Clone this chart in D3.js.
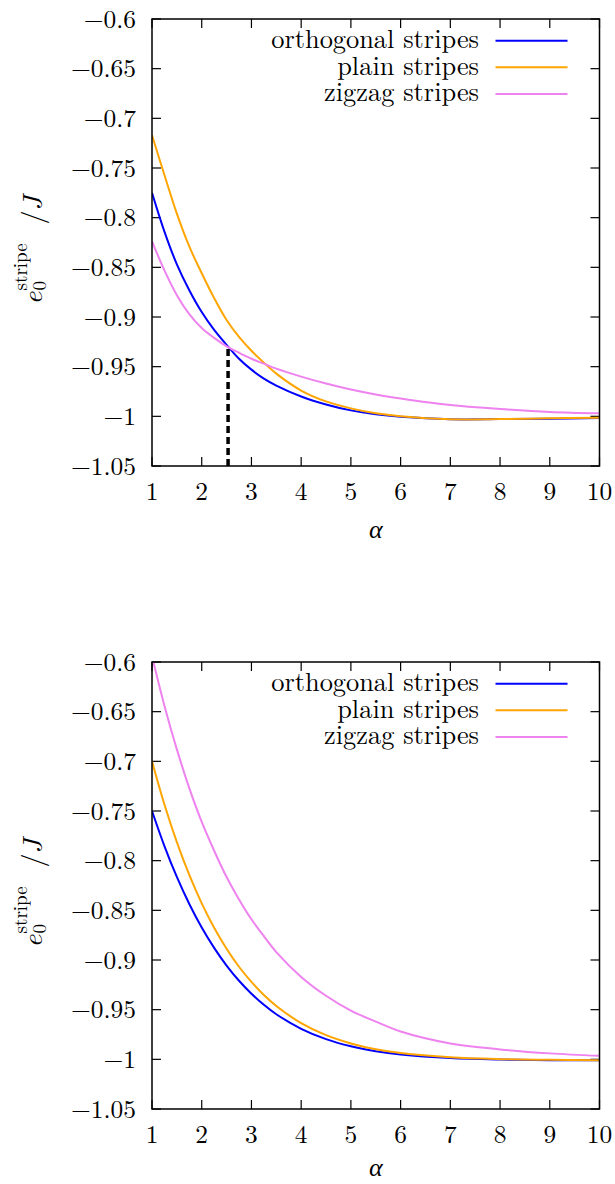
<!DOCTYPE html>
<html><head><meta charset="utf-8">
<script src="https://cdn.jsdelivr.net/npm/d3@7"></script>
<style>body{margin:0;background:#fff}svg{display:block}</style>
</head><body>
<svg id="c" width="615" height="1184"></svg>
<script>
const alpha = [1,1.25,1.5,1.75,2,2.25,2.5,2.75,3,3.25,3.5,4,4.5,5,5.5,6,7,8,9,10];
const topOrthogonal = [-0.775,-0.814,-0.847,-0.873,-0.895,-0.913,-0.928,-0.942,-0.953,-0.962,-0.969,-0.980,-0.988,-0.994,-0.998,-1.0005,-1.003,-1.0028,-1.0024,-1.0018];
const topPlain      = [-0.717,-0.757,-0.796,-0.829,-0.856,-0.881,-0.903,-0.920,-0.934,-0.946,-0.957,-0.974,-0.985,-0.992,-0.997,-1.000,-1.003,-1.0027,-1.002,-1.0015];
const topZigzag     = [-0.824,-0.853,-0.878,-0.897,-0.911,-0.921,-0.9295,-0.936,-0.942,-0.947,-0.952,-0.960,-0.967,-0.973,-0.978,-0.982,-0.9886,-0.9926,-0.9956,-0.997];
const botOrthogonal = [-0.750,-0.7853,-0.8164,-0.8436,-0.8673,-0.8878,-0.9056,-0.9209,-0.9339,-0.9451,-0.9546,-0.9693,-0.9797,-0.9869,-0.9918,-0.9951,-0.9987,-1.0002,-1.0008,-1.001];
const botPlain      = [-0.700,-0.7435,-0.7814,-0.8144,-0.843,-0.8675,-0.8886,-0.9068,-0.9221,-0.9353,-0.9463,-0.9636,-0.9757,-0.984,-0.9899,-0.9937,-0.998,-0.9998,-1.0005,-1.001];
const botZigzag     = [-0.594,-0.644,-0.688,-0.727,-0.761,-0.790,-0.8165,-0.839,-0.859,-0.876,-0.892,-0.917,-0.936,-0.951,-0.962,-0.972,-0.984,-0.990,-0.994,-0.9965];
const seriesNames = ["orthogonal stripes","plain stripes","zigzag stripes"];
const seriesColors = ["#0000ff","#ffa500","#ee82ee"];
const xTicks = [1,2,3,4,5,6,7,8,9,10];
const yTicks = [-0.6,-0.65,-0.7,-0.75,-0.8,-0.85,-0.9,-0.95,-1,-1.05];
const crossing = {alpha:2.53, e:-0.931};

const ctx = document.createElement("canvas").getContext("2d");
function pickFont(cands){
  const test = "mmmmmmmmmmlli1WQ0.65 orthogonal";
  for(const f of cands){
    for(const b of ["monospace","sans-serif"]){
      ctx.font = `40px ${b}`; const w0 = ctx.measureText(test).width;
      ctx.font = `40px "${f}", ${b}`; const w1 = ctx.measureText(test).width;
      if(Math.abs(w1-w0) > 0.5) return f;
    }
  }
  return null;
}
const face = pickFont(["Latin Modern Roman","CMU Serif","Liberation Serif","Tinos","Times New Roman","Nimbus Roman","FreeSerif","Noto Serif","DejaVu Serif"]);
const fam = face ? `"${face}", serif` : "serif";
const svg = d3.select("#c").attr("font-family", fam);
const fmt = v => (v<0?"\u2212":"") + String(Math.abs(v));

// size text by measuring its real rendered width in the SVG
function fit(str, target, italic){
  const t = svg.append("text").attr("font-size",100).attr("font-style",italic?"italic":null).text(str);
  const w = t.node().getComputedTextLength();
  t.remove();
  return w > 0 ? Math.min(32, Math.max(16, 100*target/w)) : 26;
}
const tickSize = fit(fmt(-1.05), 65);
const legSize = fit("orthogonal stripes", 208);

const L = 152, R = 599.5;
const x = d3.scaleLinear().domain([1,10]).range([L,R]);

function panel(top, bottom, data, idx, showCross, alphaOff){
  const y = d3.scaleLinear().domain([-1.05,-0.6]).range([bottom, top]);
  const g = svg.append("g");
  const clipId = "clip"+idx;
  g.append("clipPath").attr("id",clipId).append("rect")
    .attr("x",L).attr("y",top).attr("width",R-L).attr("height",bottom-top);
  const tl = 9;
  yTicks.forEach(v=>{
    g.append("line").attr("x1",L).attr("x2",L+tl).attr("y1",y(v)).attr("y2",y(v)).attr("stroke","#000").attr("stroke-width",1.2);
    g.append("line").attr("x1",R).attr("x2",R-tl).attr("y1",y(v)).attr("y2",y(v)).attr("stroke","#000").attr("stroke-width",1.2);
    g.append("text").attr("x",136).attr("y",y(v)+8.5).attr("text-anchor","end").attr("font-size",tickSize).text(fmt(v));
  });
  xTicks.forEach(v=>{
    g.append("line").attr("x1",x(v)).attr("x2",x(v)).attr("y1",bottom).attr("y2",bottom-tl).attr("stroke","#000").attr("stroke-width",1.2);
    g.append("line").attr("x1",x(v)).attr("x2",x(v)).attr("y1",top).attr("y2",top+tl).attr("stroke","#000").attr("stroke-width",1.2);
    g.append("text").attr("x",x(v)).attr("y",bottom+34).attr("text-anchor","middle").attr("font-size",tickSize).text(v);
  });
  const line = d3.line().x((d,i)=>x(alpha[i])).y(d=>y(d)).curve(d3.curveCatmullRom.alpha(0.5));
  const cg = g.append("g").attr("clip-path",`url(#${clipId})`);
  data.forEach((s,i)=>{
    cg.append("path").attr("d",line(s)).attr("fill","none").attr("stroke",seriesColors[i]).attr("stroke-width",2);
  });
  if(showCross){
    cg.append("line").attr("x1",x(crossing.alpha)).attr("x2",x(crossing.alpha))
      .attr("y1",y(-1.05)).attr("y2",y(crossing.e)).attr("stroke","#000").attr("stroke-width",3.5).attr("stroke-dasharray","7,4");
  }
  g.append("rect").attr("x",L).attr("y",top).attr("width",R-L).attr("height",bottom-top)
    .attr("fill","none").attr("stroke","#000").attr("stroke-width",1.5);
  seriesNames.forEach((n,i)=>{
    const ly = top + 21.7 + i*26.6;
    g.append("text").attr("x",479).attr("y",ly+7.5).attr("text-anchor","end").attr("font-size",legSize).text(n);
    g.append("line").attr("x1",495.5).attr("x2",567.5).attr("y1",ly).attr("y2",ly).attr("stroke",seriesColors[i]).attr("stroke-width",2);
  });
  g.append("text").attr("x",(L+R)/2).attr("y",bottom+alphaOff).attr("text-anchor","middle").attr("font-size",26).attr("font-style","italic").text("\u03b1");
  const yl = g.append("g").attr("transform",`translate(42,${(top+bottom)/2+62}) rotate(-90)`);
  yl.append("text").attr("x",0).attr("y",0).attr("font-size",28).attr("font-style","italic").text("e");
  yl.append("text").attr("x",14).attr("y",4).attr("font-size",19).text("0");
  yl.append("text").attr("x",14).attr("y",-15).attr("font-size",19).text("stripe");
  yl.append("text").attr("x",80).attr("y",0).attr("font-size",28).text("/");
  yl.append("text").attr("x",94).attr("y",0).attr("font-size",28).attr("font-style","italic").text("J");
}

panel(19, 466, [topOrthogonal, topPlain, topZigzag], 0, true, 72);
panel(662, 1109, [botOrthogonal, botPlain, botZigzag], 1, false, 67);
</script>
</body></html>
